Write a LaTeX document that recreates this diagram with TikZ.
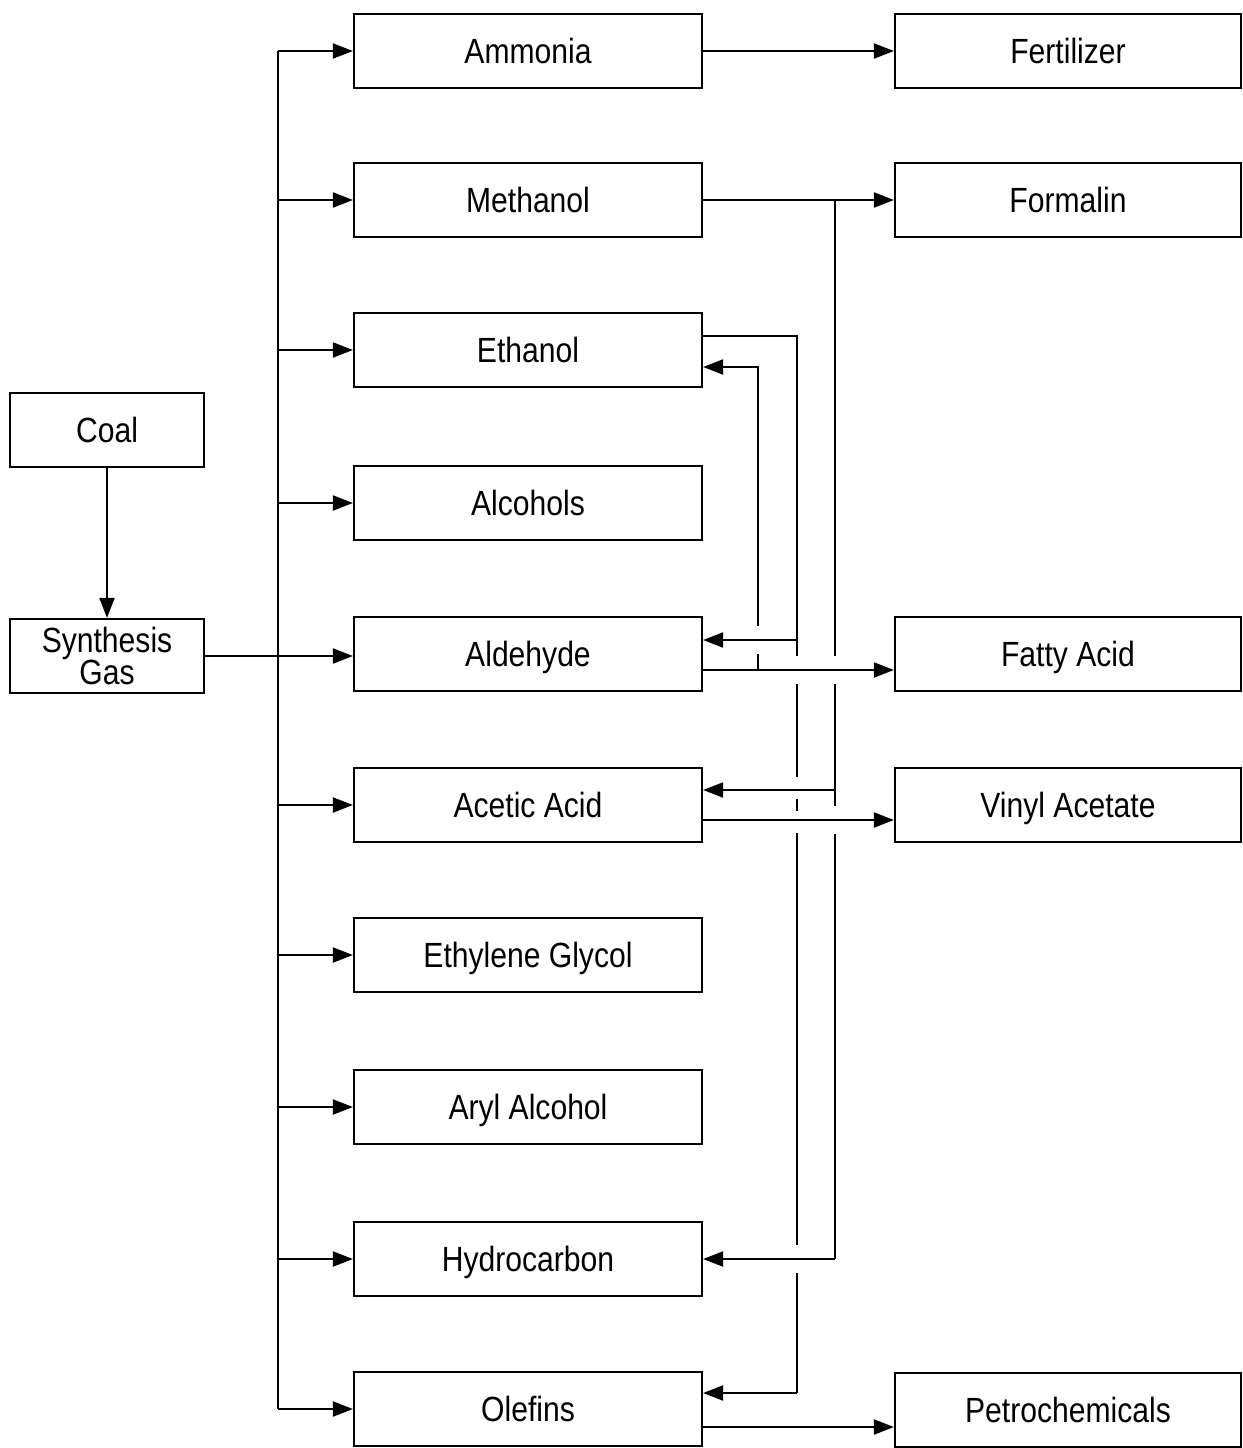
\documentclass[tikz,border=0pt]{standalone}
\usepackage{fontspec}
\setmainfont{Liberation Sans}[FakeStretch=0.86]
\usetikzlibrary{arrows.meta}
\begin{document}
\begin{tikzpicture}[x=1pt,y=-1pt,
  box/.style={draw, line width=2.2pt, minimum height=74pt, inner sep=0pt,
              font=\fontsize{35}{30}\selectfont, align=center},
  one/.style={text height=25pt, text depth=0pt},
  mid/.style={box, one, minimum width=348pt},
  rt/.style={box, one, minimum width=346pt},
  lt/.style={box, minimum width=194pt},
  ln/.style={line width=2pt},
  arr/.style={ln, -{Triangle[length=20pt,width=15pt]}}]
\useasboundingbox (0,0) rectangle (1242,1448);
\fill[white] (0,0) rectangle (1242,1448);

% left column
\node[lt, one] (coal) at (107,430) {Coal};
\node[lt] (sg) at (107,656) {Synthesis\\Gas};

% middle column
\node[mid] (amm) at (528,51) {Ammonia};
\node[mid] (meth) at (528,200) {Methanol};
\node[mid] (eth) at (528,350) {Ethanol};
\node[mid] (alc) at (528,503) {Alcohols};
\node[mid] (ald) at (528,654) {Aldehyde};
\node[mid] (acet) at (528,805) {Acetic Acid};
\node[mid] (eg) at (528,955) {Ethylene Glycol};
\node[mid] (aryl) at (528,1107) {Aryl Alcohol};
\node[mid] (hyd) at (528,1259) {Hydrocarbon};
\node[mid] (ole) at (528,1409) {Olefins};

% right column
\node[rt] (fert) at (1068,51) {Fertilizer};
\node[rt] (form) at (1068,200) {Formalin};
\node[rt] (fat) at (1068,654) {Fatty Acid};
\node[rt] (vin) at (1068,805) {Vinyl Acetate};
\node[rt] (pet) at (1068,1410) {Petrochemicals};

% coal -> synthesis gas
\draw[arr] (coal.south) -- (sg.north);
% synthesis gas -> aldehyde
\draw[arr] (sg.east) -- (sg.east -| ald.west);

% bus
\coordinate (bt) at (278,51);
\coordinate (bb) at (278,1409);
\draw[ln] (bt) -- (bb);
\draw[arr] (bt) -- (amm.west);
\foreach \n in {meth,eth,alc,acet,eg,aryl,hyd,ole}
  \draw[arr] (bt |- \n.west) -- (\n.west);

% ammonia -> fertilizer
\draw[arr] (amm.east) -- (fert.west);

% methanol line (x=835)
\coordinate (m1) at (835,200);
\coordinate (m2) at (835,790);
\coordinate (m3) at (835,1259);
\draw[ln] (meth.east) -- (m1);
\draw[arr] (m1) -- (form.west);
\draw[ln] (m1) -- (835,656) (835,684) -- (835,806) (835,834) -- (m3);
\draw[arr] (m2) -- (m2 -| acet.east);
\draw[arr] (m3) -- (hyd.east);

% ethanol line (x=797)
\coordinate (e0) at (797,336);
\coordinate (e1) at (797,640);
\coordinate (e2) at (797,1393);
\draw[ln] (e0 -| eth.east) -- (e0) -- (797,656) (797,684) -- (797,777)
  (797,799) -- (797,811) (797,833) -- (797,1245) (797,1273) -- (e2);
\draw[arr] (e1) -- (e1 -| ald.east);
\draw[arr] (e2) -- (e2 -| ole.east);

% aldehyde line
\coordinate (a0) at (758,670);
\coordinate (a1) at (758,367);
\draw[arr] (a0 -| ald.east) -- (a0 -| fat.west);
\draw[ln] (a0) -- (758,654);
\draw[arr] (758,626) -- (a1) -- (a1 -| eth.east);

% acetic acid -> vinyl acetate
\coordinate (c0) at (760,820);
\draw[arr] (c0 -| acet.east) -- (c0 -| vin.west);

% olefins -> petrochemicals
\coordinate (o0) at (760,1427);
\draw[arr] (o0 -| ole.east) -- (o0 -| pet.west);
\end{tikzpicture}
\end{document}
